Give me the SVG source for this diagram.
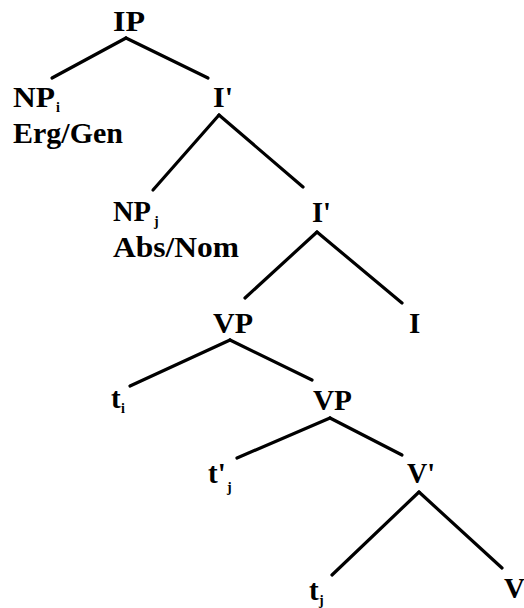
<svg xmlns="http://www.w3.org/2000/svg" width="524" height="608" viewBox="0 0 524 608">
<style>
.l{font-family:"Liberation Serif","Times New Roman",serif;font-weight:bold;font-size:29px;fill:#000}
.s{font-family:"Liberation Serif","Times New Roman",serif;font-weight:bold;font-size:14px;fill:#000}
.e line{stroke:#000;stroke-width:3.2;stroke-linecap:round}
</style>
<rect width="524" height="608" fill="#fff"/>
<g id="edges" class="e">
<line x1="126" y1="38" x2="52" y2="78"/>
<line x1="126" y1="38" x2="208" y2="78"/>
<line x1="219" y1="115" x2="153" y2="190"/>
<line x1="219" y1="115" x2="303" y2="187"/>
<line x1="317" y1="232" x2="245" y2="298"/>
<line x1="317" y1="232" x2="402" y2="303"/>
<line x1="230" y1="340" x2="130" y2="386"/>
<line x1="230" y1="340" x2="312" y2="380"/>
<line x1="330" y1="418" x2="237" y2="458"/>
<line x1="330" y1="418" x2="402" y2="455"/>
<line x1="419" y1="492" x2="332" y2="575"/>
<line x1="419" y1="492" x2="502" y2="568"/>
</g>
<g id="IP"><text class="l" x="113" y="31" textLength="32" lengthAdjust="spacingAndGlyphs">IP</text></g>
<g id="NPi"><text class="l" x="13" y="107" textLength="42" lengthAdjust="spacingAndGlyphs">NP</text><text class="s" x="56" y="112">i</text>
<text class="l" x="13" y="143" textLength="110" lengthAdjust="spacingAndGlyphs">Erg/Gen</text></g>
<g id="Ibar1"><text class="l" x="213" y="107" textLength="20" lengthAdjust="spacingAndGlyphs">I'</text></g>
<g id="NPj"><text class="l" x="113" y="221" textLength="38" lengthAdjust="spacingAndGlyphs">NP</text><text class="s" x="154" y="226">j</text>
<text class="l" x="113" y="257" textLength="126" lengthAdjust="spacingAndGlyphs">Abs/Nom</text></g>
<g id="Ibar2"><text class="l" x="312" y="222" textLength="19" lengthAdjust="spacingAndGlyphs">I'</text></g>
<g id="VP1"><text class="l" x="213" y="333" textLength="40" lengthAdjust="spacingAndGlyphs">VP</text></g>
<g id="I"><text class="l" x="409" y="333">I</text></g>
<g id="ti"><text class="l" x="111" y="408">t</text><text class="s" x="121" y="413">i</text></g>
<g id="VP2"><text class="l" x="313" y="410" textLength="39" lengthAdjust="spacingAndGlyphs">VP</text></g>
<g id="tpj"><text class="l" x="208" y="483">t'</text><text class="s" x="227" y="492">j</text></g>
<g id="Vbar"><text class="l" x="407" y="483" textLength="28" lengthAdjust="spacingAndGlyphs">V'</text></g>
<g id="tj"><text class="l" x="309" y="600">t</text><text class="s" x="319" y="605">j</text></g>
<g id="V"><text class="l" x="504" y="598">V</text></g>
</svg>
